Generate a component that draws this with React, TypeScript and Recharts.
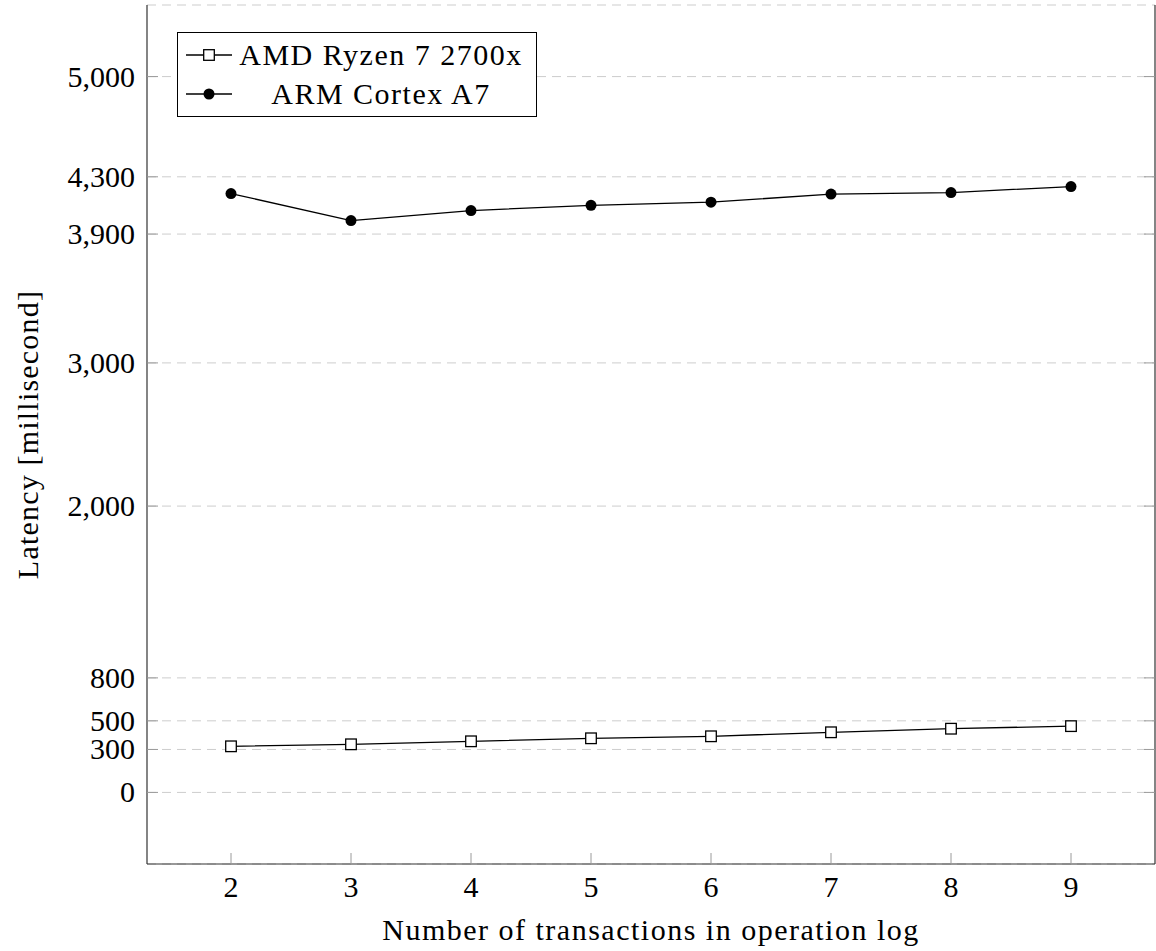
import { LineChart, Line, XAxis, YAxis, CartesianGrid, Legend } from 'recharts';

const FONT = "'Liberation Serif', 'Times New Roman', serif";

// values
const transactions = [2, 3, 4, 5, 6, 7, 8, 9];
const amdRyzen = [322, 336, 357, 378, 392, 420, 445, 463];
const armCortex = [4183, 3994, 4064, 4101, 4123, 4179, 4190, 4232];
const xTicks = [2, 3, 4, 5, 6, 7, 8, 9];
const yTicks = [0, 300, 500, 800, 2000, 3000, 3900, 4300, 5000];

const seriesNames = { amd: 'AMD Ryzen 7 2700x', arm: 'ARM Cortex A7' };

const data = transactions.map((n, i) => ({ n, amd: amdRyzen[i], arm: armCortex[i] }));

const TICK_COLOR = '#9a9a9a';
const FRAME_COLOR = '#333';

const BottomTick = ({ x, y, payload }: any) => (
  <g>
    <line x1={x} y1={y} x2={x} y2={y - 11} stroke={TICK_COLOR} />
    <text x={x} y={y + 33} textAnchor="middle" fontSize={30} fontFamily={FONT} fill="#000">
      {payload.value}
    </text>
  </g>
);

const TopTick = ({ x, y }: any) => <line x1={x} y1={y} x2={x} y2={y + 11} stroke={TICK_COLOR} />;

const LeftTick = ({ x, y, payload }: any) => (
  <g>
    <line x1={x} y1={y} x2={x + 11} y2={y} stroke={TICK_COLOR} />
    <text x={x - 12} y={y + 10} textAnchor="end" fontSize={30} fontFamily={FONT} fill="#000">
      {Number(payload.value).toLocaleString('en-US')}
    </text>
  </g>
);

const RightTick = ({ x, y }: any) => <line x1={x} y1={y} x2={x - 11} y2={y} stroke={TICK_COLOR} />;

const SquareDot = ({ cx, cy }: any) => (
  <rect x={cx - 5.3} y={cy - 5.3} width={10.6} height={10.6} fill="#fff" stroke="#000" strokeWidth={1.3} />
);

const CircleDot = ({ cx, cy }: any) => <circle cx={cx} cy={cy} r={5.5} fill="#000" />;

const LegendMarker = ({ kind }: { kind: string }) => (
  <svg width={46} height={14} style={{ display: 'block' }}>
    <line x1={0} y1={7} x2={46} y2={7} stroke="#000" strokeWidth={1.3} />
    {kind === 'amd' ? (
      <rect x={17.7} y={1.7} width={10.6} height={10.6} fill="#fff" stroke="#000" strokeWidth={1.3} />
    ) : (
      <circle cx={23} cy={7} r={5.5} fill="#000" />
    )}
  </svg>
);

const LegendBox = ({ payload }: any) => (
  <div
    style={{
      position: 'relative',
      width: 358,
      height: 83,
      border: '1px solid #000',
      background: '#fff',
      fontFamily: FONT,
    }}
  >
    {(payload || []).map((entry: any, i: number) => (
      <div key={entry.dataKey} style={{ position: 'absolute', left: 0, top: i === 0 ? 4 : 43, width: 358, height: 36 }}>
        <div style={{ position: 'absolute', left: 8, top: 11 }}>
          <LegendMarker kind={entry.dataKey} />
        </div>
        <div
          style={{
            position: 'absolute',
            left: 54,
            width: 298,
            top: 0,
            textAlign: 'center',
            fontSize: 30,
            lineHeight: '36px',
            letterSpacing: 1.5,
            color: '#000',
          }}
        >
          {entry.value}
        </div>
      </div>
    ))}
  </div>
);

export default function App() {
  return (
    <div style={{ position: 'absolute', left: 0, top: 0, width: 1156, height: 951, background: '#fff' }}>
      <LineChart width={1156} height={951} data={data} margin={{ top: 5, right: 0, bottom: 0, left: 0 }}>
        <CartesianGrid vertical={false} stroke="#cdcdcd" strokeDasharray="9 6" />
        <XAxis
          dataKey="n"
          type="number"
          domain={[1.3, 9.7]}
          ticks={xTicks}
          allowDataOverflow
          height={87}
          tickSize={0}
          tickMargin={0}
          tickLine={false}
          tick={BottomTick}
          axisLine={{ stroke: FRAME_COLOR, strokeWidth: 1.2 }}
          label={({ viewBox }: any) => (
            <text
              x={viewBox.x + viewBox.width / 2}
              y={viewBox.y + 76}
              textAnchor="middle"
              fontSize={30}
              letterSpacing={1.5}
              fontFamily={FONT}
              fill="#000"
            >
              Number of transactions in operation log
            </text>
          )}
        />
        <XAxis
          xAxisId="top"
          dataKey="n"
          type="number"
          orientation="top"
          domain={[1.3, 9.7]}
          ticks={xTicks}
          allowDataOverflow
          height={0}
          tickSize={0}
          tickMargin={0}
          tickLine={false}
          tick={TopTick}
          axisLine={{ stroke: FRAME_COLOR, strokeWidth: 1.2 }}
        />
        <YAxis
          type="number"
          domain={[-500, 5500]}
          ticks={yTicks}
          allowDataOverflow
          width={147}
          tickSize={0}
          tickMargin={0}
          tickLine={false}
          tick={LeftTick}
          axisLine={{ stroke: FRAME_COLOR, strokeWidth: 1.2 }}
          label={({ viewBox }: any) => (
            <text
              x={38}
              y={viewBox.y + viewBox.height / 2}
              transform={`rotate(-90, 38, ${viewBox.y + viewBox.height / 2})`}
              textAnchor="middle"
              fontSize={30}
              letterSpacing={1.2}
              fontFamily={FONT}
              fill="#000"
            >
              Latency [millisecond]
            </text>
          )}
        />
        <YAxis
          yAxisId="right"
          type="number"
          orientation="right"
          domain={[-500, 5500]}
          ticks={yTicks}
          allowDataOverflow
          width={1}
          tickSize={0}
          tickMargin={0}
          tickLine={false}
          tick={RightTick}
          axisLine={{ stroke: FRAME_COLOR, strokeWidth: 1.2 }}
        />
        <Legend
          layout="vertical"
          align="center"
          verticalAlign="middle"
          wrapperStyle={{ left: 177, top: 32 }}
          content={LegendBox}
        />
        <Line
          dataKey="amd"
          name={seriesNames.amd}
          stroke="#000"
          strokeWidth={1.3}
          dot={SquareDot}
          activeDot={false}
          isAnimationActive={false}
        />
        <Line
          dataKey="arm"
          name={seriesNames.arm}
          stroke="#000"
          strokeWidth={1.3}
          dot={CircleDot}
          activeDot={false}
          isAnimationActive={false}
        />
      </LineChart>
    </div>
  );
}
